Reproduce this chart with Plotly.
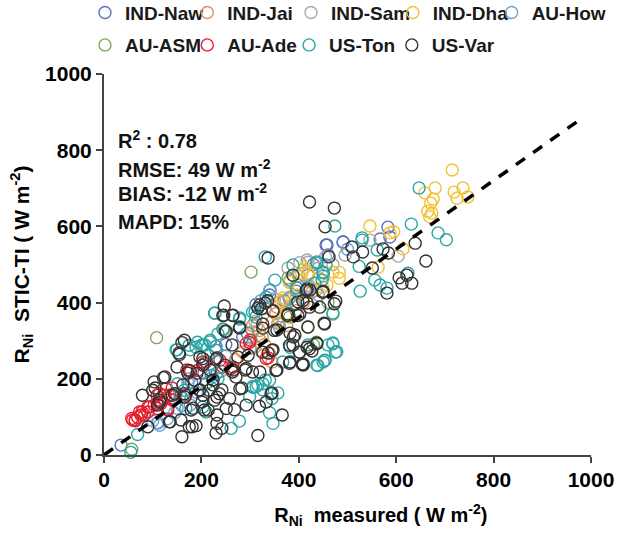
import plotly.graph_objects as go

naw_x = [35, 491, 456, 583, 567, 460, 419, 587, 340, 312, 285, 250, 230, 205, 180, 160, 130, 110, 395, 370, 430, 341, 382, 398, 491, 458]
naw_y = [26, 559, 551, 598, 567, 525, 472, 572, 420, 395, 310, 290, 285, 215, 190, 150, 120, 85, 430, 405, 500, 433, 459, 446, 559, 551]
jai_x = [305, 319, 340, 360, 381, 305, 285, 353, 418, 435, 394, 319, 330, 345, 300, 270, 410, 375, 355, 427, 324, 357, 314, 310, 345]
jai_y = [340, 305, 266, 401, 414, 323, 270, 371, 427, 432, 379, 327, 290, 350, 280, 250, 400, 340, 388, 428, 270, 346, 341, 283, 244]
sam_x = [604, 495, 546, 419, 400, 380, 350, 330, 470, 440, 310, 360, 455, 420, 390, 417, 378, 402]
sam_y = [522, 525, 564, 506, 470, 455, 410, 385, 500, 490, 350, 345, 520, 445, 395, 512, 491, 505]
dha_x = [715, 680, 659, 676, 671, 665, 673, 669, 719, 737, 725, 747, 546, 587, 595, 614, 563, 483, 413, 406, 374, 364, 381, 449, 440, 470, 395, 360, 409, 483, 368, 458, 419]
dha_y = [748, 701, 688, 672, 661, 640, 635, 625, 690, 701, 674, 677, 601, 583, 586, 541, 493, 464, 493, 477, 371, 405, 453, 440, 465, 480, 420, 350, 486, 480, 412, 446, 478]
how_x = [114, 223, 240, 322, 340, 394, 130, 160, 190, 210, 420, 360, 380, 450, 500, 100, 145, 250, 175, 300, 440, 111, 150, 172, 177]
how_y = [78, 205, 220, 405, 432, 397, 95, 130, 165, 245, 440, 335, 410, 470, 540, 90, 110, 260, 200, 280, 420, 84, 123, 189, 131]
asm_x = [108, 57, 246, 436, 470, 302, 418, 381, 430, 460, 325, 395, 378]
asm_y = [308, 15, 329, 296, 370, 480, 336, 362, 290, 400, 310, 440, 465]
ade_x = [59, 64, 76, 83, 93, 103, 117, 127, 134, 148, 168, 192, 206, 244, 261, 299, 333, 73, 57, 69, 90, 110, 141, 292, 114, 131,
         300, 337, 203, 238, 265, 64, 78, 90, 109, 125, 140, 109, 170, 131, 178]
ade_y = [92, 90, 105, 105, 126, 131, 135, 174, 157, 161, 157, 222, 240, 231, 227, 296, 253, 113, 96, 99, 113, 122, 144, 292, 161, 118,
         302, 255, 244, 249, 231, 92, 113, 126, 136, 157, 176, 157, 223, 123, 220]
ton_x = [647, 686, 703, 526, 556, 567, 581, 624, 631, 474, 530, 470, 478, 454, 437, 561, 524, 470, 450, 437, 448,
         55, 69, 261, 278, 347, 340, 357, 345, 312, 326, 340, 305, 299, 439, 453, 470, 475, 367, 227, 148, 192, 175,
         203, 218, 234, 244, 278, 213, 230, 220, 234, 203, 210, 168, 151, 165, 312, 305, 333, 394,
         331, 351, 388, 450, 456, 437, 433, 396, 530, 228, 279, 218, 201, 294, 310, 450, 460, 419, 382, 331, 316, 306,
         326, 232, 150, 189, 177, 207, 156, 211]
ton_y = [701, 583, 565, 430, 459, 446, 438, 477, 606, 601, 564, 294, 271, 249, 236, 538, 495, 373, 478, 504, 459,
         7, 54, 70, 89, 83, 111, 163, 148, 179, 187, 196, 179, 153, 235, 248, 292, 270, 244, 372, 276, 296, 288,
         288, 301, 318, 331, 357, 262, 275, 209, 200, 126, 113, 122, 187, 170, 362, 375, 414, 397,
         520, 459, 499, 480, 499, 507, 451, 438, 570, 373, 360, 297, 289, 320, 375, 244, 289, 289, 283, 197, 184, 178,
         171, 215, 276, 283, 276, 289, 157, 189]
var_x = [316, 366, 160, 230, 242, 232, 232, 189, 175, 158, 134, 90, 319, 333, 343, 292, 268, 251, 258, 237, 227, 206,
         203, 179, 279, 305, 271, 353, 381, 407, 422, 437, 401, 389, 381, 453, 473, 449, 415, 398, 377, 345, 326, 292,
         264, 230, 203, 150, 155, 160, 165, 122, 103, 79, 100, 110, 114, 145, 165, 175, 186, 196, 216, 278, 249, 247,
         244, 264, 323, 336, 350, 326, 408, 422,
         422, 473, 454, 509, 531, 512, 462, 573, 584, 639, 661, 551, 606, 622, 612, 632, 581, 476, 450, 452, 419, 437,
         427, 409, 417, 423, 417,
         337, 388, 417, 320, 347, 398, 316, 246, 265, 279, 251, 331, 347, 378, 326, 355, 382, 402, 443, 392, 388, 402,
         382, 409, 355, 337, 347, 263, 275, 296, 232, 197, 203, 248, 265, 290, 320, 224, 242, 283, 232, 345,
         154, 125, 105, 115, 136, 181, 172, 191, 162, 218, 201, 214, 183, 166, 140, 224, 197]
var_y = [51, 105, 48, 58, 70, 83, 105, 77, 74, 92, 87, 74, 128, 139, 161, 131, 119, 122, 148, 161, 144, 118,
         157, 118, 174, 218, 205, 222, 241, 238, 279, 292, 270, 310, 288, 344, 397, 427, 432, 366, 366, 275, 270, 227,
         218, 251, 253, 231, 264, 295, 301, 203, 192, 157, 170, 131, 144, 161, 161, 222, 196, 170, 170, 333, 325, 391,
         366, 366, 384, 405, 327, 344, 405, 388,
         664, 648, 599, 546, 533, 520, 520, 541, 530, 556, 509, 491, 465, 472, 451, 451, 425, 404, 430, 346, 336, 294,
         273, 236, 283, 433, 399,
         517, 472, 436, 394, 378, 402, 386, 367, 367, 336, 325, 399, 378, 370, 333, 328, 320, 370, 388, 315, 289, 270,
         244, 239, 223, 268, 276, 289, 257, 262, 255, 257, 236, 236, 223, 223, 218, 197, 171, 176, 152, 163,
         268, 205, 176, 139, 87, 74, 215, 215, 184, 223, 139, 118, 123, 152, 157, 184, 171]
fit_x = [0, 977]
fit_y = [0, 880]

series = [
    ("IND-Naw", naw_x, naw_y, "#5B73B8"),
    ("IND-Jai", jai_x, jai_y, "#E08E58"),
    ("IND-Sam", sam_x, sam_y, "#A8A8A8"),
    ("IND-Dha", dha_x, dha_y, "#F2C230"),
    ("AU-How", how_x, how_y, "#6FA3CF"),
    ("AU-ASM", asm_x, asm_y, "#7FA85A"),
    ("AU-Ade", ade_x, ade_y, "#E5202E"),
    ("US-Ton", ton_x, ton_y, "#2AA6A6"),
    ("US-Var", var_x, var_y, "#333333"),
]
legend_x = [-0.039, 0.171, 0.384, 0.593, 0.796, -0.039, 0.171, 0.380, 0.591]
legend_y = [1.161, 1.161, 1.161, 1.161, 1.161, 1.076, 1.076, 1.076, 1.076]

fig = go.Figure()
for i, (name, x, y, color) in enumerate(series):
    fig.add_trace(go.Scatter(
        x=x, y=y, mode="markers", name=name, legend="legend" if i == 0 else f"legend{i + 1}", cliponaxis=False,
        marker=dict(symbol="circle-open", size=12, color=color, line=dict(width=1.4, color=color)),
    ))
fig.add_trace(go.Scatter(
    x=fit_x, y=fit_y, mode="lines", showlegend=False, cliponaxis=False,
    line=dict(color="black", width=3.5, dash="11px,10px"),
))

FONT = "Liberation Sans, Arial, sans-serif"
axis = dict(
    range=[0, 1000], dtick=200, showgrid=False, zeroline=False, showline=True,
    linecolor="#444444", linewidth=2, ticks="outside", ticklen=6, tickwidth=2, tickcolor="#444444",
    tickfont=dict(family=FONT, size=21, color="black", weight="bold"),
)
legends = {}
for i in range(len(series)):
    legends["legend" if i == 0 else f"legend{i + 1}"] = dict(
        orientation="h", xanchor="left", yanchor="middle", x=legend_x[i], y=legend_y[i],
        font=dict(family=FONT, size=19, color="#1a1a1a", weight="bold"), bgcolor="rgba(0,0,0,0)",
        itemclick=False, itemdoubleclick=False,
    )
pad = "&nbsp;" * 12
fig.update_layout(
    width=630, height=533, margin=dict(l=104, r=39, t=74, b=78, autoexpand=False),
    paper_bgcolor="white", plot_bgcolor="white", font=dict(family=FONT, color="black"),
    xaxis=dict(axis, ticklabelstandoff=-1,
               title=dict(text=pad + "<b>R<sub>Ni</sub>&nbsp;&nbsp;measured ( W m<sup>-2</sup>)</b>", font=dict(size=20, family=FONT), standoff=18)),
    yaxis=dict(axis, title=dict(text="<b>R<sub>Ni</sub>&nbsp;&nbsp;STIC-TI ( W m<sup>-2</sup>)</b>", font=dict(size=21, family=FONT), standoff=10)),
    **legends,
)
notes = ["R<sup>2</sup> : 0.78", "RMSE: 49 W m<sup>-2</sup>", "BIAS: -12 W m<sup>-2</sup>", "MAPD: 15%"]
note_y = [829, 753, 688, 612]
for text, y in zip(notes, note_y):
    fig.add_annotation(x=25, y=y, xref="x", yref="y", text="<b>" + text + "</b>", showarrow=False,
                       xanchor="left", yanchor="middle", font=dict(family=FONT, size=20, color="#111111"))
fig.write_html("out.html", config={"displayModeBar": False},
               post_script="document.body.style.margin='0';document.body.style.overflow='hidden';")
